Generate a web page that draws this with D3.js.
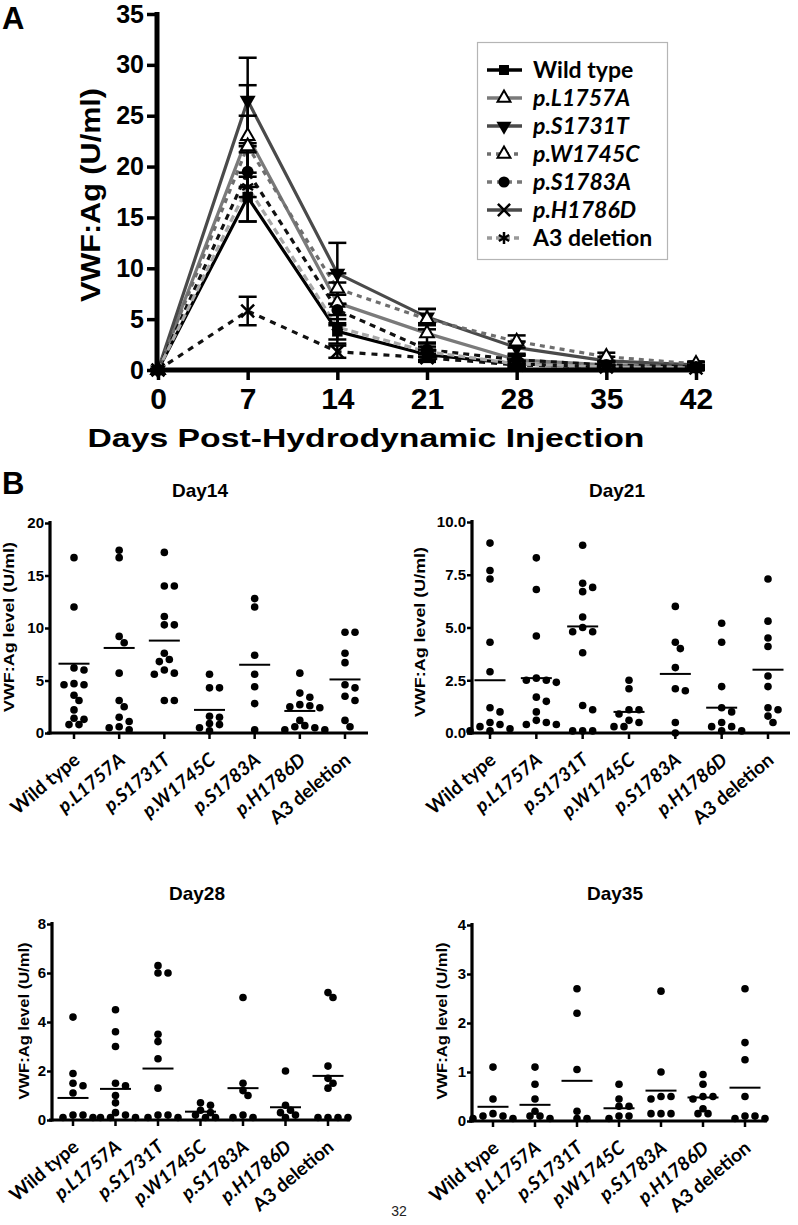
<!DOCTYPE html>
<html><head><meta charset="utf-8">
<script src="https://cdn.jsdelivr.net/npm/d3@7"></script>
<style>body{margin:0;background:#fff}</style></head>
<body>
<script>
// ---------- Panel A data ----------
const days = [0, 7, 14, 21, 28, 35, 42];
const seriesNames = ["Wild type", "p.L1757A", "p.S1731T", "p.W1745C", "p.S1783A", "p.H1786D", "A3 deletion"];
const wildType    = [0, 17.0, 3.8, 1.5, 0.6, 0.3, 0.2];
const wildTypeErr = [0, 2.4, 1.2, 0.5, 0.3, 0.2, 0.2];
const l1757a      = [0, 23.0, 6.6, 3.6, 1.0, 0.5, 0.3];
const l1757aErr   = [0, 5.0, 2.0, 1.0, 0.5, 0.3, 0.2];
const s1731t      = [0, 26.5, 9.5, 5.2, 2.2, 0.9, 0.5];
const s1731tErr   = [0, 4.2, 3.0, 0.8, 0.6, 0.4, 0.3];
const w1745c      = [0, 22.0, 8.0, 5.0, 2.8, 1.3, 0.6];
const w1745cErr   = [0, 3.0, 1.5, 1.0, 0.6, 0.4, 0.2];
const s1783a      = [0, 19.5, 5.9, 2.0, 1.0, 0.5, 0.3];
const s1783aErr   = [0, 2.5, 1.5, 0.7, 0.4, 0.3, 0.2];
const h1786d      = [0, 5.8, 1.8, 1.2, 0.5, 0.3, 0.2];
const h1786dErr   = [0, 1.4, 0.6, 0.4, 0.2, 0.1, 0.1];
const a3del       = [0, 18.0, 4.2, 1.8, 0.6, 0.3, 0.2];
const a3delErr    = [0, 3.4, 1.2, 0.5, 0.3, 0.2, 0.1];
const yTicksA = [0, 5, 10, 15, 20, 25, 30, 35];

// ---------- Panel B data ----------
const categories = ["Wild type", "p.L1757A", "p.S1731T", "p.W1745C", "p.S1783A", "p.H1786D", "A3 deletion"];
const day14 = [
  [16.7, 12.0, 6.2, 6.0, 4.7, 4.6, 4.6, 3.6, 3.1, 2.2, 1.4, 1.3, 0.8, 0.8],
  [17.4, 16.7, 9.2, 8.6, 5.7, 3.1, 2.5, 1.5, 1.1, 0.6, 0.5, 0.3],
  [17.2, 14.0, 14.0, 11.1, 10.3, 10.3, 7.6, 7.0, 6.8, 6.0, 5.7, 5.6, 3.1, 3.1],
  [5.6, 4.3, 4.3, 1.6, 1.5, 0.9, 0.8, 0.5, 0.2],
  [12.8, 12.0, 7.4, 5.6, 4.4, 2.8, 0.3],
  [5.7, 3.8, 3.4, 2.7, 2.6, 2.5, 2.4, 1.2, 0.7, 0.6, 0.5, 0.3, 0.3],
  [9.6, 9.6, 7.6, 6.7, 4.6, 4.3, 3.5, 3.1, 1.2, 0.6]
];
const mean14 = [6.6, 8.1, 8.8, 2.2, 6.5, 2.1, 5.1];
const day21 = [
  [9.0, 7.7, 7.3, 4.3, 2.9, 1.2, 1.0, 0.5, 0.4, 0.3, 0.2, 0.1, 0.1],
  [8.3, 6.8, 4.6, 2.6, 2.5, 2.5, 2.4, 1.7, 1.5, 1.0, 0.6, 0.5, 0.4, 0.4],
  [8.9, 7.1, 6.9, 6.7, 5.5, 5.0, 4.8, 4.8, 3.8, 1.3, 1.1, 0.1, 0.1, 0.1],
  [2.5, 2.1, 1.1, 1.1, 0.9, 0.6, 0.5, 0.3, 0.3],
  [6.0, 4.3, 4.0, 3.1, 2.1, 2.0, 0.5, 0.0],
  [5.2, 4.3, 2.2, 1.2, 1.0, 0.5, 0.3, 0.3, 0.1, 0.1],
  [7.3, 5.3, 4.5, 4.1, 2.7, 2.2, 1.2, 1.1, 0.8, 0.5]
];
const mean21 = [2.5, 2.6, 5.05, 1.0, 2.8, 1.2, 3.0];
const day28 = [
  [4.2, 1.9, 1.5, 1.4, 1.1, 0.2, 0.2, 0.1, 0.1],
  [4.5, 3.6, 3.0, 1.5, 1.4, 1.0, 0.7, 0.3, 0.2, 0.1, 0.1, 0.1],
  [6.3, 6.0, 6.0, 3.5, 3.2, 2.5, 1.3, 0.2, 0.2, 0.1, 0.1],
  [0.7, 0.6, 0.4, 0.3, 0.2, 0.1, 0.1],
  [5.0, 1.5, 1.2, 1.0, 0.2, 0.1, 0.1],
  [2.0, 0.6, 0.4, 0.3, 0.2, 0.1],
  [5.2, 5.0, 2.2, 1.7, 1.5, 1.3, 0.1, 0.1, 0.1, 0.1]
];
const mean28 = [0.9, 1.27, 2.1, 0.34, 1.3, 0.52, 1.8];
const day35 = [
  [1.1, 0.45, 0.15, 0.1, 0.1, 0.05, 0.05],
  [1.1, 0.75, 0.45, 0.2, 0.1, 0.1, 0.05],
  [2.7, 2.2, 1.05, 0.2, 0.05, 0.05],
  [0.75, 0.45, 0.3, 0.3, 0.1, 0.1, 0.05],
  [2.65, 1.0, 0.5, 0.5, 0.45, 0.15, 0.15, 0.15],
  [0.95, 0.75, 0.5, 0.5, 0.45, 0.25, 0.15, 0.15],
  [2.7, 1.6, 1.25, 0.5, 0.1, 0.1, 0.05, 0.05]
];
const mean35 = [0.29, 0.33, 0.82, 0.26, 0.62, 0.48, 0.68];
const ticks14 = [0, 5, 10, 15, 20];
const ticks21 = [0, 2.5, 5, 7.5, 10];
const ticks28 = [0, 2, 4, 6, 8];
const ticks35 = [0, 1, 2, 3, 4];

// ---------- drawing ----------
const ARIAL = "'Liberation Sans', Arial, sans-serif";
const NARROW = "'Liberation Sans Narrow', 'Arial Narrow', 'Liberation Sans', Arial, sans-serif";
const CAL = "Lato, 'Open Sans', sans-serif";

const svg = d3.select("body").append("svg").attr("width", 798).attr("height", 1225)
  .style("background", "#fff");

const valuesA = [wildType, l1757a, s1731t, w1745c, s1783a, h1786d, a3del];
const errsA = [wildTypeErr, l1757aErr, s1731tErr, w1745cErr, s1783aErr, h1786dErr, a3delErr];
const stylesA = [
  {color: "#000", dash: null, legDash: null, sym: "square"},
  {color: "#7a7a7a", dash: null, legDash: null, sym: "triOpen"},
  {color: "#4a4a4a", dash: null, legDash: null, sym: "triDown"},
  {color: "#6e6e6e", dash: "5,5", legDash: "4,5", sym: "triOpen"},
  {color: "#111", dash: "6,5", legDash: "5,5", sym: "circle", legColor: "#777"},
  {color: "#111", dash: "6,6", legDash: null, sym: "times", legColor: "#4a4a4a"},
  {color: "#a8a8a8", dash: "7,4", legDash: "5,4", sym: "asterisk", legColor: "#999"}
];
const seriesA = seriesNames.map((n, i) => ({name: n, vals: valuesA[i], errs: errsA[i], st: stylesA[i]}));

const xA = d3.scaleLinear().domain([0, 42]).range([158, 696]);
const yA = d3.scaleLinear().domain([0, 35]).range([370, 14]);

function drawSymbol(g, sym, x, y, scale) {
  scale = scale || 1;
  if (sym === "square") {
    g.append("path").attr("d", d3.symbol(d3.symbolSquare, 110 * scale)()).attr("transform", `translate(${x},${y})`).attr("fill", "#000");
  } else if (sym === "triOpen") {
    g.append("path").attr("d", d3.symbol(d3.symbolTriangle, 80 * scale)()).attr("transform", `translate(${x},${y})`).attr("fill", "#fff").attr("stroke", "#000").attr("stroke-width", 2);
  } else if (sym === "triDown") {
    g.append("path").attr("d", d3.symbol(d3.symbolTriangle, 110 * scale)()).attr("transform", `translate(${x},${y}) rotate(180)`).attr("fill", "#000");
  } else if (sym === "circle") {
    g.append("path").attr("d", d3.symbol(d3.symbolCircle, 110 * scale)()).attr("transform", `translate(${x},${y})`).attr("fill", "#000");
  } else if (sym === "times") {
    g.append("path").attr("d", d3.symbol(d3.symbolTimes, 110 * scale)()).attr("transform", `translate(${x},${y})`).attr("fill", "none").attr("stroke", "#000").attr("stroke-width", 2.5);
  } else if (sym === "asterisk") {
    g.append("path").attr("d", d3.symbol(d3.symbolAsterisk, 110 * scale)()).attr("transform", `translate(${x},${y})`).attr("fill", "none").attr("stroke", "#000").attr("stroke-width", 2.5);
  }
}

const gA = svg.append("g");
gA.append("text").attr("x", 2).attr("y", 29).text("A")
  .attr("font-family", ARIAL).attr("font-weight", "bold").attr("font-size", 31);

const lineGen = d3.line().x((d, i) => xA(days[i])).y(d => yA(d));
seriesA.forEach(s => {
  gA.append("path").attr("d", lineGen(s.vals)).attr("fill", "none")
    .attr("stroke", s.st.color).attr("stroke-width", 3.2)
    .attr("stroke-dasharray", s.st.dash);
});
seriesA.forEach(s => {
  s.vals.forEach((v, i) => {
    const e = s.errs[i]; if (!e) return;
    const x = xA(days[i]);
    gA.append("line").attr("x1", x).attr("x2", x).attr("y1", yA(v - e)).attr("y2", yA(v + e)).attr("stroke", "#000").attr("stroke-width", 2.5);
    [v - e, v + e].forEach(t => gA.append("line").attr("x1", x - 9).attr("x2", x + 9).attr("y1", yA(t)).attr("y2", yA(t)).attr("stroke", "#000").attr("stroke-width", 2.5));
  });
});
seriesA.forEach(s => s.vals.forEach((v, i) => drawSymbol(gA, s.st.sym, xA(days[i]), yA(v))));

const axYA = gA.append("g").attr("transform", "translate(157,0)")
  .call(d3.axisLeft(yA).tickValues(yTicksA).tickSize(10).tickSizeOuter(0).tickPadding(3));
const axXA = gA.append("g").attr("transform", "translate(0,370)")
  .call(d3.axisBottom(xA).tickValues(days).tickSize(10).tickSizeOuter(0).tickPadding(8));
[axYA, axXA].forEach(a => {
  a.select(".domain").remove();
  a.selectAll(".tick line").attr("stroke", "#000").attr("stroke-width", 3.5);
});
axYA.selectAll("text").attr("font-family", ARIAL).attr("font-weight", "bold").attr("font-size", 25).attr("fill", "#000");
axXA.selectAll("text").attr("font-family", NARROW).attr("font-weight", "bold").attr("font-size", 30).attr("fill", "#000");
gA.append("line").attr("x1", 157).attr("x2", 157).attr("y1", 12).attr("y2", 372).attr("stroke", "#000").attr("stroke-width", 5);
gA.append("line").attr("x1", 150).attr("x2", 702).attr("y1", 370).attr("y2", 370).attr("stroke", "#000").attr("stroke-width", 5);

gA.append("text").attr("transform", "translate(100,195) rotate(-90)").attr("text-anchor", "middle")
  .attr("font-family", ARIAL).attr("font-weight", "bold").attr("font-size", 27)
  .attr("textLength", 214).attr("lengthAdjust", "spacingAndGlyphs").text("VWF:Ag (U/ml)");
gA.append("text").attr("x", 366).attr("y", 447).attr("text-anchor", "middle")
  .attr("font-family", ARIAL).attr("font-weight", "bold").attr("font-size", 26)
  .attr("textLength", 557).attr("lengthAdjust", "spacingAndGlyphs").text("Days Post-Hydrodynamic Injection");

const leg = gA.append("g");
leg.append("rect").attr("x", 477.5).attr("y", 42.5).attr("width", 190).attr("height", 217)
  .attr("fill", "#fff").attr("stroke", "#b5b5b5").attr("stroke-width", 1.2);
seriesA.forEach((s, i) => {
  const y = 70 + i * 28;
  leg.append("line").attr("x1", 487).attr("x2", 522).attr("y1", y).attr("y2", y)
    .attr("stroke", s.st.legColor || s.st.color).attr("stroke-width", 3.5).attr("stroke-dasharray", s.st.legDash);
  drawSymbol(leg, s.st.sym, 504, y, 0.9);
  leg.append("text").attr("x", 533).attr("y", y + 8).text(s.name)
    .attr("font-family", CAL).attr("font-weight", "bold").attr("font-size", 23)
    .attr("font-style", s.name.startsWith("p.") ? "italic" : "normal");
});

// ---------- Panel B ----------
svg.append("text").attr("x", 2).attr("y", 494).text("B")
  .attr("font-family", ARIAL).attr("font-weight", "bold").attr("font-size", 31);

function swarm(vals, xc, ys) {
  const placed = [], out = [];
  const dmin = 7, step = 5;
  vals.slice().sort((a, b) => b - a).forEach(v => {
    const y = ys(v);
    let off = 0;
    for (let i = 0; i < 60; i++) {
      off = i === 0 ? 0 : (i % 2 ? 1 : -1) * Math.ceil(i / 2) * step;
      if (placed.every(p => Math.hypot(p.x - off, p.y - y) >= dmin)) break;
    }
    placed.push({x: off, y});
    out.push({v, x: xc + off, y});
  });
  return out;
}

function scatterPanel(cfg) {
  const g = svg.append("g");
  const x = d3.scalePoint().domain(categories).range(cfg.xr);
  const y = d3.scaleLinear().domain([0, cfg.max]).range([cfg.y0, cfg.y1]);
  g.append("text").attr("x", cfg.titleX).attr("y", cfg.titleY).attr("text-anchor", "middle")
    .attr("font-family", ARIAL).attr("font-weight", "bold").attr("font-size", 19).text(cfg.title);
  const ay = g.append("g").attr("transform", `translate(${cfg.ax},0)`)
    .call(d3.axisLeft(y).tickValues(cfg.ticks).tickSize(5).tickSizeOuter(0).tickPadding(1)
      .tickFormat(cfg.fmt));
  ay.select(".domain").remove();
  ay.selectAll(".tick line").attr("stroke", "#000").attr("stroke-width", 2.5);
  ay.selectAll("text").attr("font-family", ARIAL).attr("font-weight", "bold").attr("font-size", 15).attr("fill", "#000");
  g.append("line").attr("x1", cfg.ax).attr("x2", cfg.ax).attr("y1", cfg.y1 - 2).attr("y2", cfg.y0 + 1.5)
    .attr("stroke", "#000").attr("stroke-width", 3.2);
  g.append("line").attr("x1", cfg.ax - 3).attr("x2", cfg.xEnd).attr("y1", cfg.y0).attr("y2", cfg.y0)
    .attr("stroke", "#000").attr("stroke-width", 3.2);
  categories.forEach(c => {
    g.append("line").attr("x1", x(c)).attr("x2", x(c)).attr("y1", cfg.y0).attr("y2", cfg.y0 + 6)
      .attr("stroke", "#000").attr("stroke-width", 2.5);
    g.append("text").attr("transform", `translate(${x(c) + 7},${cfg.y0 + 29}) rotate(-40)`)
      .attr("text-anchor", "end").attr("font-family", CAL).attr("font-weight", "bold").attr("font-size", 19)
      .attr("font-style", c.startsWith("p.") ? "italic" : "normal").text(c);
  });
  g.append("text").attr("transform", `translate(${cfg.labX},${cfg.labY}) rotate(-90)`).attr("text-anchor", "middle")
    .attr("font-family", ARIAL).attr("font-weight", "bold").attr("font-size", 14.5)
    .attr("textLength", cfg.labLen).attr("lengthAdjust", "spacingAndGlyphs").text("VWF:Ag level (U/ml)");
  categories.forEach((c, i) => {
    swarm(cfg.data[i], x(c), y).forEach(p => {
      g.append("circle").attr("cx", p.x).attr("cy", p.y).attr("r", 3.8).attr("fill", "#000");
    });
    g.append("line").attr("x1", x(c) - 15.5).attr("x2", x(c) + 15.5)
      .attr("y1", y(cfg.means[i])).attr("y2", y(cfg.means[i])).attr("stroke", "#000").attr("stroke-width", 2);
  });
}

scatterPanel({title: "Day14", titleX: 200, titleY: 497, data: day14, means: mean14, max: 20, ticks: ticks14,
  fmt: d3.format("d"), xr: [74, 345], y0: 733, y1: 523, ax: 50, xEnd: 368, labX: 14, labY: 627, labLen: 170});
scatterPanel({title: "Day21", titleX: 617, titleY: 497, data: day21, means: mean21, max: 10, ticks: ticks21,
  fmt: d3.format(".1f"), xr: [490, 768], y0: 733, y1: 522, ax: 472, xEnd: 790, labX: 425, labY: 632, labLen: 170});
scatterPanel({title: "Day28", titleX: 197, titleY: 900, data: day28, means: mean28, max: 8, ticks: ticks28,
  fmt: d3.format("d"), xr: [73, 328], y0: 1120, y1: 924, ax: 52, xEnd: 350, labX: 29, labY: 1021, labLen: 157});
scatterPanel({title: "Day35", titleX: 615, titleY: 900, data: day35, means: mean35, max: 4, ticks: ticks35,
  fmt: d3.format("d"), xr: [493, 745], y0: 1121, y1: 925, ax: 472, xEnd: 767, labX: 447, labY: 1021, labLen: 157});

svg.append("text").attr("x", 399).attr("y", 1216).attr("text-anchor", "middle")
  .attr("font-family", ARIAL).attr("font-size", 14).attr("fill", "#222").text("32");
</script>
</body></html>
